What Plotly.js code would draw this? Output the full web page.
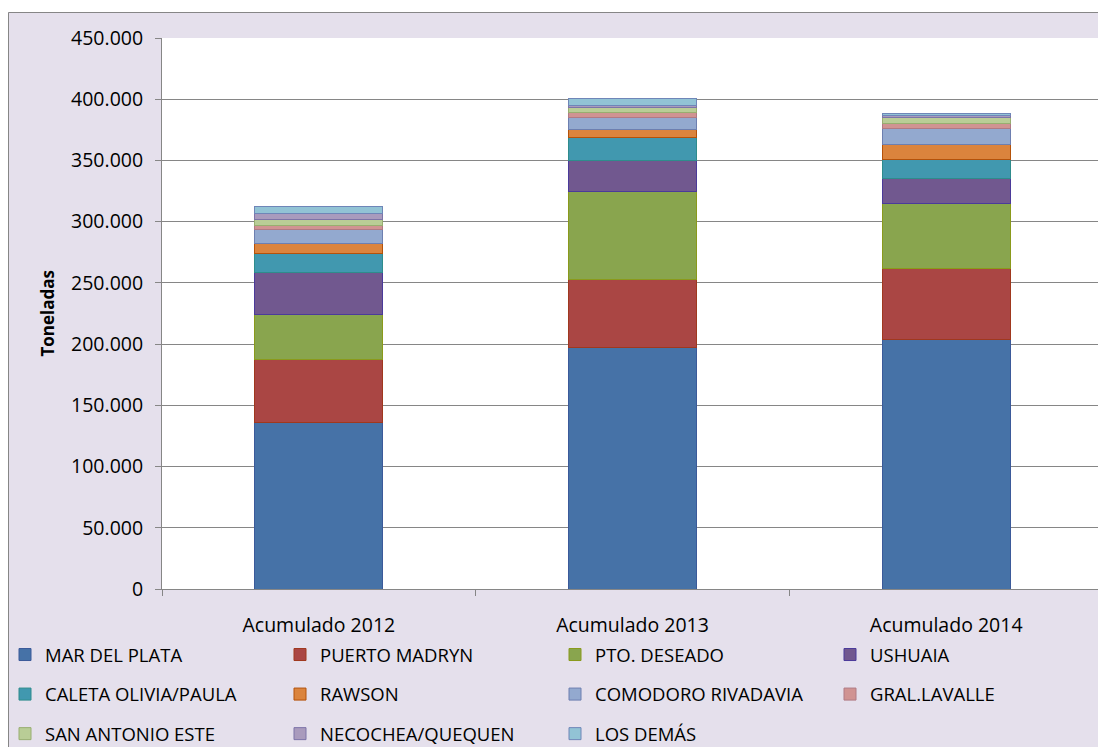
<!DOCTYPE html>
<html>
<head>
<meta charset="utf-8">
<script src="https://cdn.plot.ly/plotly-3.0.1.min.js"></script>
<style>html,body{margin:0;padding:0;background:#fff;overflow:hidden}#chart{width:1104px;height:747px}</style>
</head>
<body>
<div id="chart"></div>
<script>
// Categories (x axis)
const categories = ["Acumulado 2012", "Acumulado 2013", "Acumulado 2014"];

// Series names (ports) in stacking order, bottom to top
const seriesNames = ["MAR DEL PLATA", "PUERTO MADRYN", "PTO. DESEADO", "USHUAIA",
  "CALETA OLIVIA/PAULA", "RAWSON", "COMODORO RIVADAVIA", "GRAL.LAVALLE",
  "SAN ANTONIO ESTE", "NECOCHEA/QUEQUEN", "LOS DEMÁS"];

// Values in tonnes
const marDelPlata     = [136200, 197500, 204000];
const puertoMadryn    = [51500, 55500, 57400];
const ptoDeseado      = [36700, 71900, 53700];
const ushuaia         = [34000, 24800, 19900];
const caletaOlivia    = [15900, 19300, 15700];
const rawson          = [7600, 6000, 12600];
const comodoro        = [12000, 9800, 13100];
const gralLavalle     = [2900, 4300, 4100];
const sanAntonioEste  = [5200, 4400, 4600];
const necochea        = [4900, 1700, 1600];
const losDemas        = [5800, 5700, 1600];

// Y-axis ticks and title
const yTickVals = [0, 50000, 100000, 150000, 200000, 250000, 300000, 350000, 400000, 450000];
const yTitle = "Toneladas";

const seriesValues = [marDelPlata, puertoMadryn, ptoDeseado, ushuaia, caletaOlivia,
  rawson, comodoro, gralLavalle, sanAntonioEste, necochea, losDemas];

const fillColors = ["#4672A7", "#AA4644", "#89A54E", "#71588F", "#4198AF", "#DB843D",
  "#93A9CF", "#D09392", "#B9CD96", "#A99BBD", "#92C3D5"];
const lineColors = ["#3B5A9A", "#A0381E", "#8A9A1B", "#4B3A9A", "#2E8C8C", "#B4520A",
  "#6D7FB0", "#B07A84", "#98AE70", "#7D74A8", "#6F86B8"];

// legend columns (4 columns in the reference, filled row by row)
const legendIds = ["legend","legend2","legend3","legend4",
                   "legend","legend2","legend3","legend4",
                   "legend","legend2","legend3"];

const font = "'Open Sans', sans-serif";

const traces = seriesNames.map((name, i) => ({
  type: "bar",
  name: name,
  x: categories,
  y: seriesValues[i],
  marker: {color: fillColors[i], line: {color: lineColors[i], width: 1}},
  legend: legendIds[i],
  legendgroup: "g" + i,
  hoverinfo: "name+y"
}));

// pixel helpers
const W = 1104, H = 747, L = 162, R = 1, T = 38, B = 158;
const pw = W - L - R, ph = H - T - B;
const px = v => (v - L) / pw;
const py = v => (H - B - v) / ph;
const cx = v => v / W;
const cy = v => (H - v) / H;

const legendBase = {
  orientation: "v",
  xref: "container",
  yref: "container",
  xanchor: "left",
  yanchor: "top",
  y: cy(636),
  bgcolor: "rgba(0,0,0,0)",
  borderwidth: 0,
  tracegroupgap: 12.5,
  traceorder: "grouped",
  font: {family: font, size: 18.5, color: "#000"}
};

const colText = [47, 322, 597, 872];

const layout = {
  width: W, height: H,
  margin: {l: L, r: R, t: T, b: B, pad: 0, autoexpand: false},
  paper_bgcolor: "#E5E0EC",
  plot_bgcolor: "#FFFFFF",
  barmode: "stack",
  bargap: 0.592,
  separators: ",.",
  font: {family: font, size: 19.5, color: "#000"},
  xaxis: {
    type: "category",
    automargin: false,
    showgrid: false,
    showline: true,
    linecolor: "#868686",
    linewidth: 1,
    ticks: "outside",
    tickson: "boundaries",
    ticklen: 6,
    tickcolor: "#868686",
    ticklabelstandoff: 19,
    tickangle: 0,
    tickfont: {family: font, size: 19.5, color: "#000"},
    fixedrange: true
  },
  yaxis: {
    automargin: false,
    range: [0, 450000],
    tickvals: yTickVals,
    tickformat: ",d",
    showgrid: true,
    gridcolor: "#868686",
    gridwidth: 1,
    showline: true,
    linecolor: "#868686",
    linewidth: 1,
    ticks: "outside",
    ticklen: 6,
    tickcolor: "#868686",
    ticklabelstandoff: 8,
    zeroline: false,
    tickfont: {family: font, size: 19.5, color: "#000"},
    fixedrange: true
  },
  annotations: [
    {text: "<b>" + yTitle + "</b>", xref: "paper", yref: "paper", x: px(47), y: 0.5,
     xanchor: "center", yanchor: "middle", textangle: -90, showarrow: false,
     font: {family: font, size: 17, color: "#000"}}
  ],
  legend:  Object.assign({}, legendBase, {x: cx(colText[0] - 42)}),
  legend2: Object.assign({}, legendBase, {x: cx(colText[1] - 42)}),
  legend3: Object.assign({}, legendBase, {x: cx(colText[2] - 42)}),
  legend4: Object.assign({}, legendBase, {x: cx(colText[3] - 42)}),
  shapes: [
    {type: "rect", xref: "paper", yref: "paper", x0: px(-5), x1: px(8), y0: py(H + 5), y1: py(-5),
     fillcolor: "#FFFFFF", line: {width: 0}, layer: "above"},
    {type: "rect", xref: "paper", yref: "paper", x0: px(-5), x1: px(W + 5), y0: py(12), y1: py(-5),
     fillcolor: "#FFFFFF", line: {width: 0}, layer: "above"},
    {type: "rect", xref: "paper", yref: "paper", x0: px(8.5), x1: px(W + 5), y0: py(H + 5), y1: py(12.5),
     fillcolor: "rgba(0,0,0,0)", line: {color: "#868686", width: 1}, layer: "above"}
  ],
  showlegend: true
};

Plotly.newPlot("chart", traces, layout, {displayModeBar: false, staticPlot: true});
</script>
</body>
</html>
